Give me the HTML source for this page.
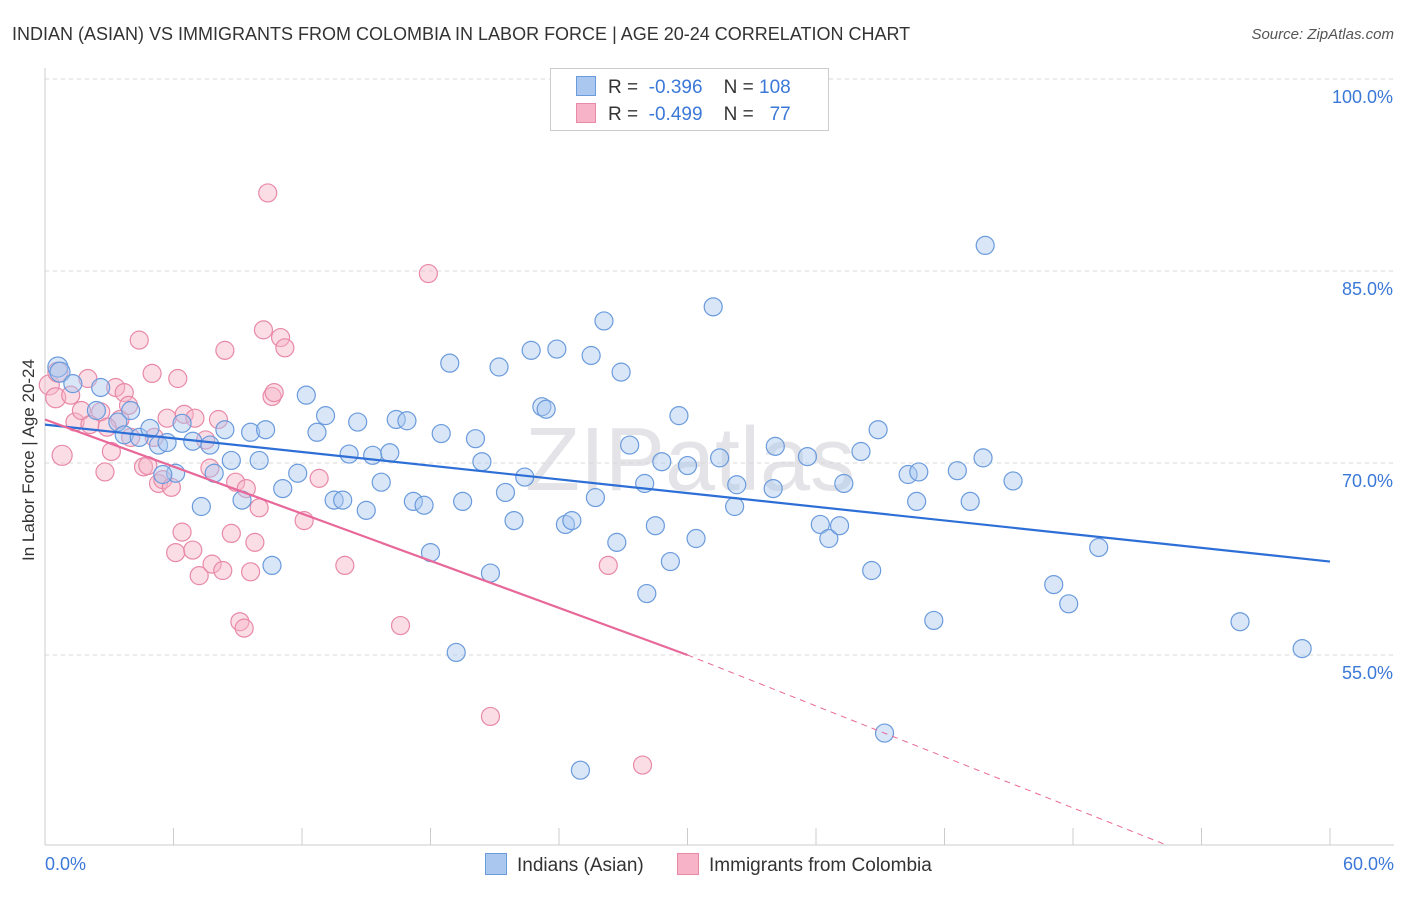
<!DOCTYPE html>
<html><head><meta charset="utf-8"><style>
body{margin:0;background:#fff;font-family:"Liberation Sans",sans-serif;}
svg text{font-family:"Liberation Sans",sans-serif;}
</style></head><body>
<svg id="c" width="1406" height="892" xmlns="http://www.w3.org/2000/svg">
<text x="12" y="40" font-size="18" fill="#333">INDIAN (ASIAN) VS IMMIGRANTS FROM COLOMBIA IN LABOR FORCE | AGE 20-24 CORRELATION CHART</text>
<text x="1394" y="39" font-size="15" fill="#555" text-anchor="end" font-style="italic">Source: ZipAtlas.com</text>
<text x="34" y="460" font-size="17" fill="#333" text-anchor="middle" transform="rotate(-90 34 460)">In Labor Force | Age 20-24</text>
<text x="690" y="490" font-size="90" fill="#e4e4e8" text-anchor="middle" font-family="Liberation Serif">ZIPatlas</text>
<g id="grid"></g><g id="marks"></g><g id="lines"></g>
</svg>
<script>
const blueX=[0.6,0.7,1.3,2.6,2.4,3.4,3.7,4.0,4.4,4.9,5.3,5.7,6.1,6.4,6.9,7.3,7.7,7.9,8.4,8.7,9.2,9.6,10.0,10.3,10.6,11.1,11.8,12.2,12.7,13.1,13.5,13.9,14.2,14.6,15.0,15.3,15.7,16.1,16.4,16.9,17.2,17.7,18.0,18.5,18.9,19.2,19.5,20.1,20.4,20.8,21.2,21.5,21.9,22.4,22.7,23.2,23.4,23.9,24.3,24.6,25.0,25.5,25.7,26.1,26.7,26.9,27.3,28.0,28.1,28.5,28.8,29.2,29.6,30.0,30.4,31.2,31.5,32.2,32.3,34.0,34.1,35.6,36.2,36.6,37.1,37.3,38.6,38.9,39.2,40.3,40.7,40.8,41.5,42.6,43.2,43.9,43.8,45.2,47.1,47.8,49.2,55.8,58.7,38.1,5.5];
const blueY=[77.5,77.1,76.2,75.9,74.1,73.2,72.2,74.1,72.0,72.7,71.4,71.6,69.2,73.1,71.7,66.6,71.4,69.2,72.6,70.2,67.1,72.4,70.2,72.6,62.0,68.0,69.2,75.3,72.4,73.7,67.1,67.1,70.7,73.2,66.3,70.6,68.5,70.8,73.4,73.3,67.0,66.7,63.0,72.3,77.8,55.2,67.0,71.9,70.1,61.4,77.5,67.7,65.5,68.9,78.8,74.4,74.2,78.9,65.2,65.5,46.0,78.4,67.3,81.1,63.8,77.1,71.4,68.4,59.8,65.1,70.1,62.3,73.7,69.8,64.1,82.2,70.4,66.6,68.3,68.0,71.3,70.5,65.2,64.1,65.1,68.4,61.6,72.6,48.9,69.1,67.0,69.3,57.7,69.4,67.0,87.0,70.4,68.6,60.5,59.0,63.4,57.6,55.5,70.9,69.1];
const pinkX=[0.2,0.5,0.6,0.8,1.2,1.4,1.7,2.1,2.6,2.8,3.1,3.3,3.5,3.7,3.9,4.4,4.6,4.8,5.0,5.1,5.3,5.5,5.7,5.9,6.1,6.2,6.4,6.5,6.9,7.0,7.2,7.5,7.7,7.8,8.1,8.3,8.4,8.7,8.9,9.1,9.3,9.4,9.6,9.8,10.0,10.2,10.4,10.6,10.7,11.0,11.2,12.1,12.8,14.0,16.6,17.9,20.8,26.3,27.9,2.9,4.0,2.0];
const pinkY=[76.1,75.1,77.1,70.6,75.3,73.2,74.1,73.0,74.0,69.3,70.9,75.9,73.4,75.5,74.5,79.6,69.7,69.8,77.0,72.0,68.4,68.7,73.5,68.1,63.0,76.6,64.6,73.8,63.2,73.5,61.2,71.8,69.6,62.1,73.4,61.6,78.8,64.5,68.5,57.6,57.1,68.0,61.5,63.8,66.5,80.4,91.1,75.2,75.5,79.8,79.0,65.5,68.8,62.0,57.3,84.8,50.2,62.0,46.4,72.8,72.0,76.6];
const yTicks=[100,85,70,55];
const yTickLabels=["100.0%","85.0%","70.0%","55.0%"];
const blueTrend=[73.0,62.3];
const pinkTrend=[73.4,55.0];
const pinkDashEnd=52.3;
const NS="http://www.w3.org/2000/svg";
const X0=45,X1=1330,YTOP=79,PY=12.8,BOT=845;
const sx=v=>X0+(v/60)*(X1-X0);
const sy=v=>YTOP+(100-v)*PY;
function mk(tag,attrs,parent){const e=document.createElementNS(NS,tag);for(const k in attrs)e.setAttribute(k,attrs[k]);parent.appendChild(e);return e;}
const grid=document.getElementById('grid'),marks=document.getElementById('marks'),lines=document.getElementById('lines');
yTicks.forEach((t,i)=>{
  const l=mk('line',{x1:X0,x2:1394,y1:sy(t),y2:sy(t),stroke:'#d8d8d8','stroke-dasharray':'4 4'},grid);
  
  
  const tx=mk('text',{x:1393,y:sy(t)+24,'font-size':18,fill:'#3b78d8','text-anchor':'end'},grid);
  tx.textContent=yTickLabels[i];
  
  
});
const ax=mk('line',{x1:X0,x2:X0,y1:68,y2:BOT,stroke:'#ccc'},grid);


const bx=mk('line',{x1:X0,x2:1394,y1:BOT,y2:BOT,stroke:'#ccc'},grid);


for(let i=0;i<=10;i++){const t=mk('line',{x1:sx(i*6),x2:sx(i*6),y1:828,y2:BOT,stroke:'#ccc'},grid);

}
[['0.0%',X0,'start'],['60.0%',1394,'end']].forEach(a=>{const t=mk('text',{x:a[1],y:870,'font-size':18,fill:'#3b78d8','text-anchor':a[2]},grid);t.textContent=a[0];

});
function dots(xs,ys,fill,stroke,name){xs.forEach((x,i)=>{const big=x<1.0;const c=mk('circle',{cx:sx(x),cy:sy(ys[i]),r:big?10:9,fill:fill,'fill-opacity':0.45,stroke:stroke,'stroke-width':1.2},marks);

});}
dots(pinkX,pinkY,'#f7b3c8','#e889a8','colombia-point');
dots(blueX,blueY,'#a9c7ef','#6b9bdc','indian-point');
const bl=mk('line',{x1:sx(0),y1:sy(blueTrend[0]),x2:sx(60),y2:sy(blueTrend[1]),stroke:'#2d6fd6','stroke-width':2.2},lines);


const pl=mk('line',{x1:sx(0),y1:sy(pinkTrend[0]),x2:sx(30),y2:sy(pinkTrend[1]),stroke:'#e8689a','stroke-width':2.2},lines);


const pd=mk('line',{x1:sx(30),y1:sy(pinkTrend[1]),x2:sx(pinkDashEnd),y2:sy(40.2),stroke:'#e8689a','stroke-width':1,'stroke-dasharray':'6 5'},lines);


</script>
<div style="position:absolute;left:550px;top:68px;width:277px;height:61px;border:1px solid #ccc;background:#fff;font-size:19px;color:#333;">
 <div style="position:absolute;left:25px;top:7px;white-space:pre"><span style="display:inline-block;width:18px;height:18px;background:#a9c7ef;border:1px solid #6b9bdc;vertical-align:-3px;margin-right:12px"></span>R =  <span style="color:#3b78d8">-0.396</span>    N = <span style="color:#3b78d8">108</span></div>
 <div style="position:absolute;left:25px;top:34px;white-space:pre"><span style="display:inline-block;width:18px;height:18px;background:#f7b3c8;border:1px solid #e889a8;vertical-align:-3px;margin-right:12px"></span>R =  <span style="color:#3b78d8">-0.499</span>    N =   <span style="color:#3b78d8">77</span></div>
</div>
<div style="position:absolute;left:485px;top:853px;font-size:19px;color:#333;white-space:nowrap">
 <span><span style="display:inline-block;width:20px;height:20px;background:#a9c7ef;border:1px solid #6b9bdc;vertical-align:-4px;margin-right:10px"></span>Indians (Asian)</span>
 <span style="margin-left:28px"><span style="display:inline-block;width:20px;height:20px;background:#f7b3c8;border:1px solid #e889a8;vertical-align:-4px;margin-right:10px"></span>Immigrants from Colombia</span>
</div>
</body></html>
